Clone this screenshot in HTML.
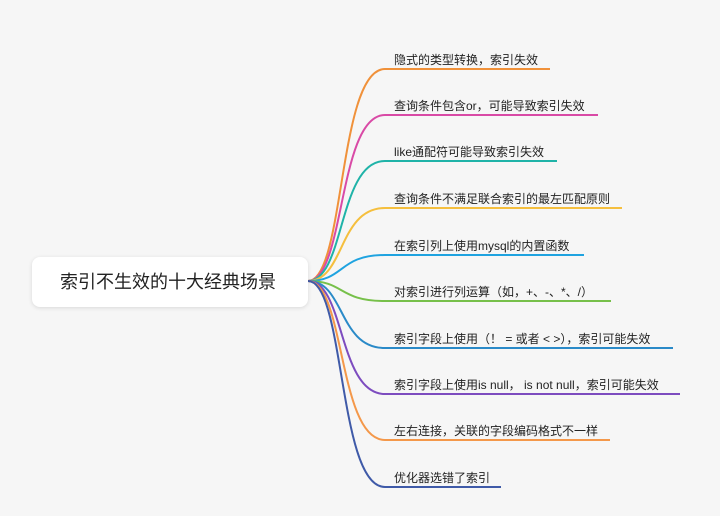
<!DOCTYPE html>
<html><head><meta charset="utf-8"><style>
body{margin:0;width:720px;height:516px;background:#f6f6f6;overflow:hidden;font-family:"Liberation Sans","Noto Sans CJK SC",sans-serif;}
.root{position:absolute;left:32px;top:257px;width:276px;height:50px;background:#fff;border-radius:8px;box-shadow:0 1px 4px rgba(0,0,0,0.12);font-size:18px;color:#222;line-height:50px;box-sizing:border-box;padding-left:28px;}
.t{position:absolute;left:394px;font-size:12px;color:#222;white-space:nowrap;}
</style></head><body>
<svg width="720" height="516" style="position:absolute;left:0;top:0" fill="none" stroke-width="2">
<path d="M308,281 C345,281 338,69 385,69 L550,69" stroke="#f0913a"/>
<path d="M308,281 C345,281 338,115 385,115 L598,115" stroke="#d94aa6"/>
<path d="M308,281 C345,281 338,161 385,161 L557,161" stroke="#1fb3a8"/>
<path d="M308,281 C345,281 338,208 385,208 L622,208" stroke="#f5bf3e"/>
<path d="M308,281 C345,281 338,255 385,255 L584,255" stroke="#1fa3e0"/>
<path d="M308,281 C345,281 338,301 385,301 L611,301" stroke="#77c04a"/>
<path d="M308,281 C345,281 338,348 385,348 L673,348" stroke="#2a8ac8"/>
<path d="M308,281 C345,281 338,394 385,394 L680,394" stroke="#7d4cbf"/>
<path d="M308,281 C345,281 338,440 385,440 L610,440" stroke="#f4984a"/>
<path d="M308,281 C345,281 338,487 385,487 L501,487" stroke="#3f5aa8"/>
</svg>
<div class="root">索引不生效的十大经典场景</div>
<div class="t" style="top:51px">隐式的类型转换，索引失效</div>
<div class="t" style="top:97px">查询条件包含or，可能导致索引失效</div>
<div class="t" style="top:143px">like通配符可能导致索引失效</div>
<div class="t" style="top:190px">查询条件不满足联合索引的最左匹配原则</div>
<div class="t" style="top:237px">在索引列上使用mysql的内置函数</div>
<div class="t" style="top:283px">对索引进行列运算（如，+、-、*、/）</div>
<div class="t" style="top:330px">索引字段上使用（！ = 或者 &lt; &gt;），索引可能失效</div>
<div class="t" style="top:376px">索引字段上使用is null， is not null，索引可能失效</div>
<div class="t" style="top:422px">左右连接，关联的字段编码格式不一样</div>
<div class="t" style="top:469px">优化器选错了索引</div>
</body></html>
